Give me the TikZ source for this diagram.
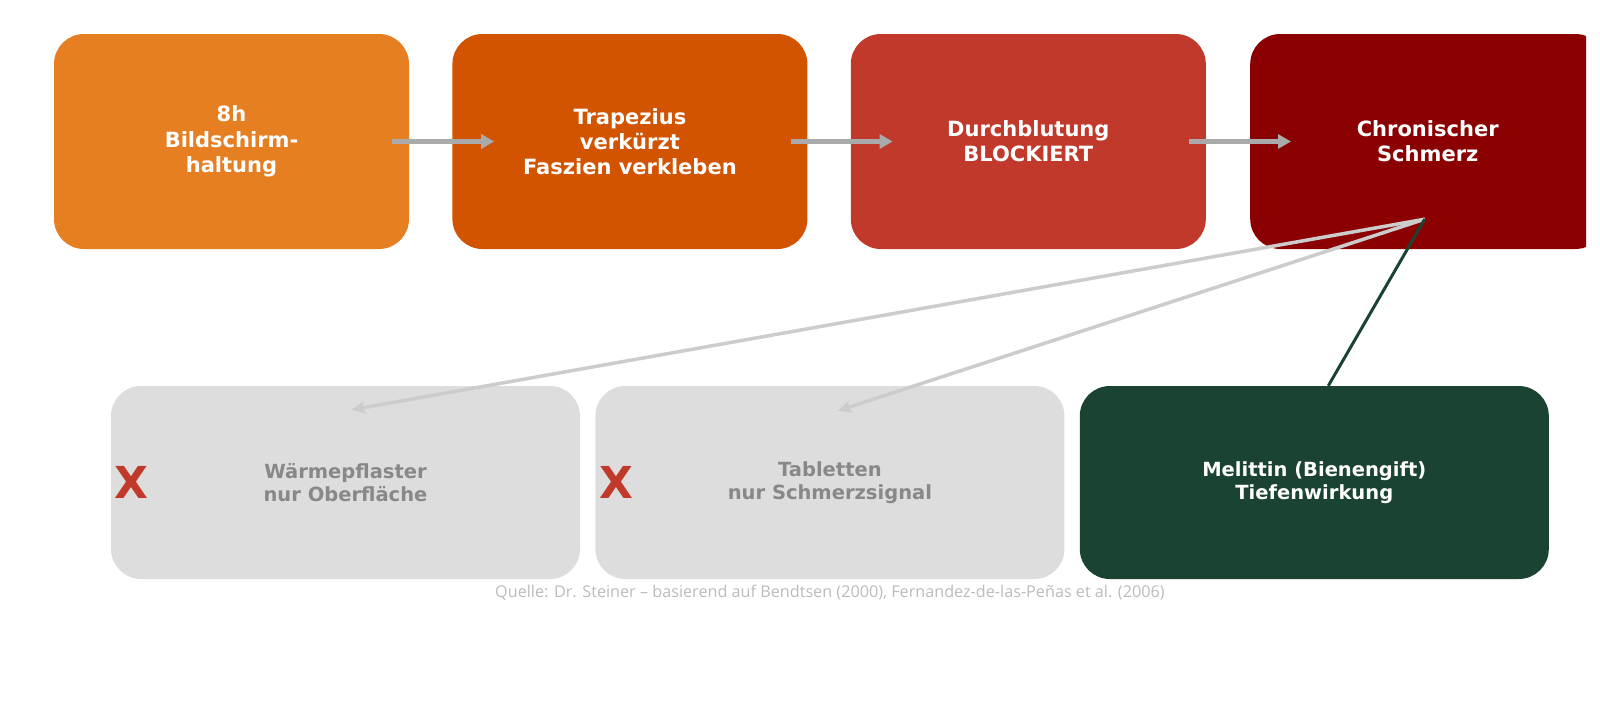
\documentclass[tikz,border=0pt]{standalone}
\usepackage{fontspec}
\setmainfont{DejaVu Sans}
\newfontfamily\notefont{Open Sans}
\usetikzlibrary{positioning,arrows.meta}
\definecolor{orangeA}{HTML}{E67E22}
\definecolor{orangeB}{HTML}{D35400}
\definecolor{redA}{HTML}{C0392B}
\definecolor{redB}{HTML}{8B0000}
\definecolor{greyBox}{HTML}{DDDDDD}
\definecolor{greyText}{HTML}{888888}
\definecolor{greenBox}{HTML}{1B4332}
\definecolor{arrGrey}{HTML}{AAAAAA}
\definecolor{fanGrey}{HTML}{CCCCCC}
\definecolor{noteGrey}{HTML}{BBBBBB}

\begin{document}
\begin{tikzpicture}[
  x=1pt, y=-1pt,
  node distance = 43pt and 43pt,
  box/.style    = {rounded corners=30pt, inner sep=0pt, align=center},
  chain/.style  = {box, minimum width=355pt, minimum height=215pt,
                   text=white, font=\bfseries\fontsize{21}{25.3}\selectfont},
  remedy/.style = {box, minimum width=469pt, minimum height=193pt,
                   font=\bfseries\fontsize{19.5}{22.5}\selectfont},
  weak/.style   = {remedy, fill=greyBox, text=greyText},
  strong/.style = {remedy, fill=greenBox, text=white},
  cross/.style  = {text=redA, font=\bfseries\fontsize{44}{44}\selectfont, inner sep=0pt},
  arr/.style    = {-{Triangle[length=13pt,width=14pt]}, line width=4.5pt, arrGrey},
  fan/.style    = {-{Stealth[length=14pt,width=13pt,inset=4pt]}, line width=3.5pt, fanGrey},
]
\useasboundingbox (0,0) rectangle (1600,702);

% cause chain
\node[chain, fill=orangeA] at (231.5,141.5) (s1) {8h\\Bildschirm-\\haltung};
\node[chain, fill=orangeB, right=of s1] (s2) {Trapezius\\verkürzt\\Faszien verkleben};
\node[chain, fill=redA,    right=of s2] (s3) {Durchblutung\\BLOCKIERT};
\begin{scope}
  \clip (0,0) rectangle (1586,702);
  \node[chain, fill=redB, right=44pt of s3] (s4) {Chronischer\\Schmerz};
\end{scope}
\draw[arr] ([xshift=-17pt]s1.east) -- ([xshift=85pt]s1.east);
\draw[arr] ([xshift=-17pt]s2.east) -- ([xshift=85pt]s2.east);
\draw[arr] ([xshift=-17pt]s3.east) -- ([xshift=85pt]s3.east);

% remedies
\node[weak] at (345.5,482.5) (b1) {Wärmepflaster\\nur Oberfläche};
\node[weak,   right=15pt of b1] (b2) {Tabletten\\nur Schmerzsignal};
\node[strong, right=15pt of b2] (b3) {Melittin (Bienengift)\\Tiefenwirkung};
\node[cross] at ([xshift=21pt]b1.west) (x1) {X};
\node[cross] at ([xshift=21pt]b2.west) (x2) {X};

\coordinate (hub) at ([xshift=-3pt,yshift=30pt]s4.south);
\draw[fan] (hub) -- ([xshift=6pt,yshift=-24pt]b1.north);
\draw[fan] (hub) -- ([xshift=8pt,yshift=-25pt]b2.north);
\draw[line width=3pt, greenBox] (hub) -- ([xshift=14pt]b3.north);

\node[below=6pt of b2, inner sep=0pt, text=noteGrey,
      font=\notefont\fontsize{16.2}{19}\selectfont] (src)
     {Quelle: Dr. Steiner – basierend auf Bendtsen (2000), Fernandez-de-las-Peñas et al. (2006)};
\end{tikzpicture}
\end{document}
